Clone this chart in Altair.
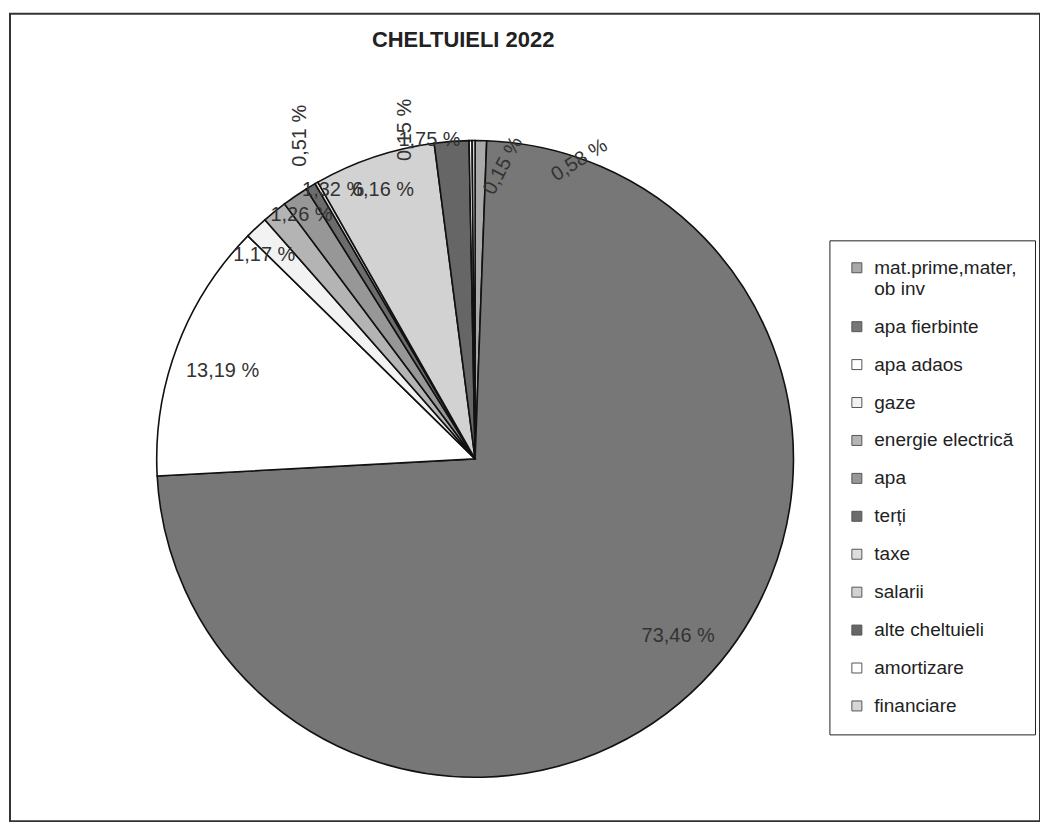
import altair as alt
import pandas as pd

# ---- data ----
categories = ["mat.prime,mater, ob inv", "apa fierbinte", "apa adaos", "gaze",
              "energie electrică", "apa", "terți", "taxe", "salarii",
              "alte cheltuieli", "amortizare", "financiare"]
shares = [0.58, 73.46, 13.19, 1.17, 1.26, 1.32, 0.51, 0.16, 6.16, 1.75, 0.15, 0.15]
labels = ["0,58 %", "73,46 %", "13,19 %", "1,17 %", "1,26 %", "1,32 %", "0,51 %",
          "", "6,16 %", "1,75 %", "0,15 %", "0,15 %"]

# ---- styles ----
colors = ["#a9a9a9", "#777777", "#ffffff", "#f2f2f2", "#b4b4b4", "#979797",
          "#6c6c6c", "#dedede", "#d2d2d2", "#666666", "#ffffff", "#d6d6d6"]
# label placement nudges (Excel "best fit" look): angular shift (deg), radius (px), rotation
label_nudge = [18.2, -3.4, -1.4, -2.5, 3.6, 6.6, 2.7, 0, -0.4, -3.9, -11.2, 5.7]
label_radius = [317, 270, 268, 294, 300, 305, 368, 300, 285, 323, 337, 295]
label_rotation = [328, 0, 0, 0, 0, 0, 270, 0, 0, 0, 270, 298]

FONT = "Liberation Sans"
CX, CY, R = 466, 446, 319

df = pd.DataFrame({
    "idx": list(range(len(categories))),
    "cat": categories,
    "share": shares,
    "label": labels,
    "nudge": label_nudge,
    "lr": label_radius,
    "rot": label_rotation,
})

base = alt.Chart(df)

pie = base.mark_arc(stroke="#111111", strokeWidth=1.6, radius=R).encode(
    theta=alt.Theta("share:Q", stack=True),
    color=alt.Color(
        "cat:N",
        sort=categories,
        scale=alt.Scale(domain=categories, range=colors),
        legend=alt.Legend(
            title=None,
            orient="none",
            legendX=821,
            legendY=227,
            direction="vertical",
            fillColor="white",
            strokeColor="#222222",
            padding=18,
            symbolType="square",
            symbolSize=100,
            symbolStrokeWidth=1,
            symbolStrokeColor="#555555",
            labelFont=FONT,
            labelFontSize=19,
            labelColor="#222222",
            labelOffset=8,
            labelLimit=260,
            rowPadding=18,
            labelExpr="datum.label == 'mat.prime,mater, ob inv' ? ['mat.prime,mater,', 'ob inv'] : datum.label",
        ),
    ),
    order=alt.Order("idx:Q"),
    x=alt.value(CX),
    y=alt.value(CY),
)

text = base.transform_window(
    cum="sum(share)", sort=[alt.SortField("idx")], frame=[None, 0]
).transform_joinaggregate(
    total="sum(share)"
).transform_calculate(
    mid="(datum.cum - datum.share / 2) / datum.total * 2 * PI + datum.nudge * PI / 180",
    lx=f"{CX} + datum.lr * sin(datum.mid)",
    ly=f"{CY} - datum.lr * cos(datum.mid)",
).mark_text(font=FONT, fontSize=20, color="#333333", baseline="middle", align="center").encode(
    x=alt.X("lx:Q", scale=None),
    y=alt.Y("ly:Q", scale=None),
    text="label:N",
    angle=alt.Angle("rot:Q", scale=None),
)

title = alt.Chart(pd.DataFrame({"t": ["CHELTUIELI  2022"]})).mark_text(
    font=FONT, fontSize=22, fontWeight="bold", color="#222222", align="center", baseline="alphabetic"
).encode(text="t:N", x=alt.value(454), y=alt.value(33))

chart = alt.layer(pie, text, title).properties(
    width=1032,
    height=809,
    padding={"left": 2, "top": 5, "right": 0, "bottom": 0},
    background="white",
).configure_view(stroke="#333333", strokeWidth=2)

chart.save("out.html", embed_options={"renderer": "svg", "actions": False})
